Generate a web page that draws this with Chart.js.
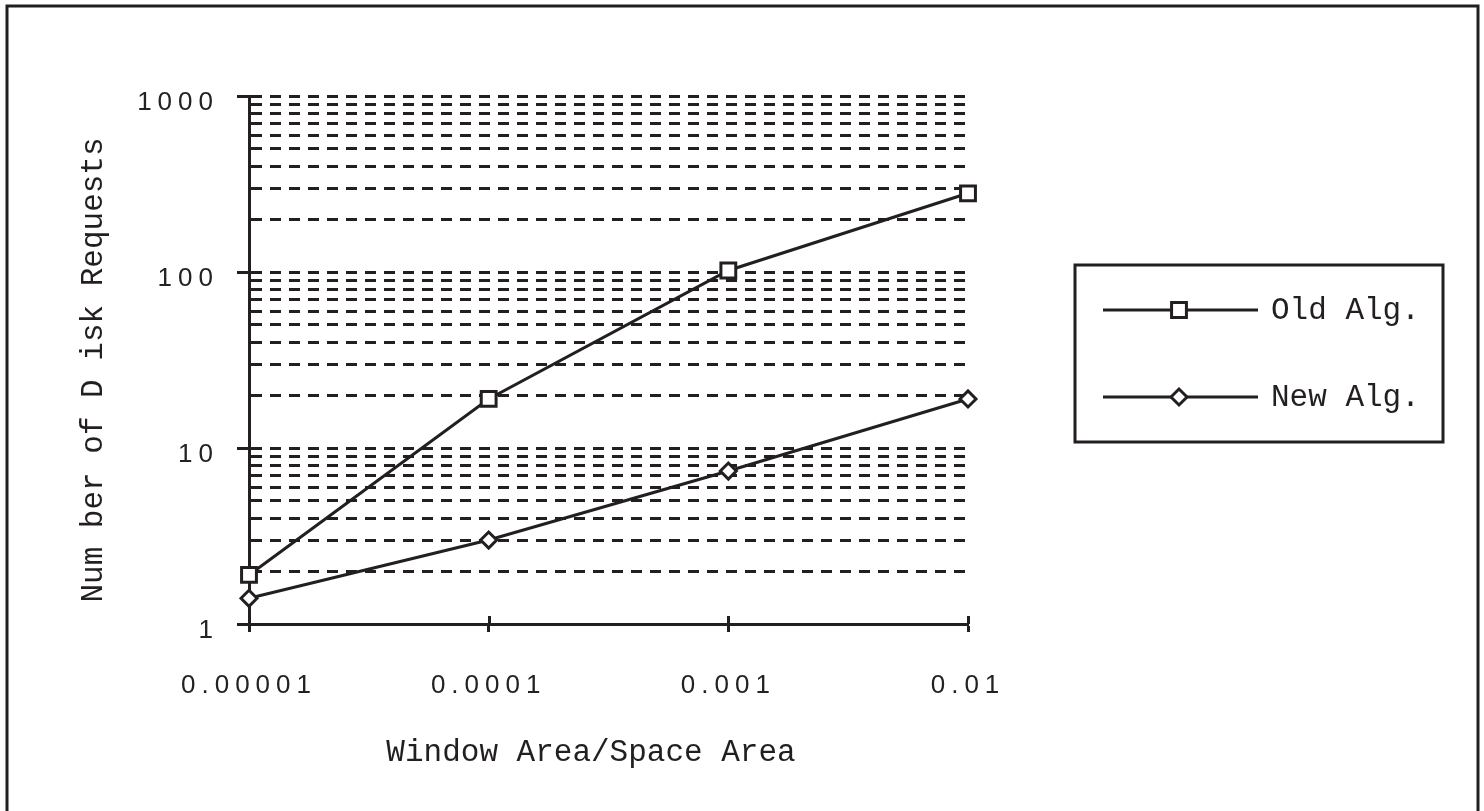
<!DOCTYPE html>
<html>
<head>
<meta charset="utf-8">
<script src="https://cdn.jsdelivr.net/npm/chart.js@4.4.1/dist/chart.umd.min.js"></script>
<style>
  html, body { margin: 0; padding: 0; background: #fff; }
  #wrap { width: 1484px; height: 811px; position: relative; }
</style>
</head>
<body>
<div id="wrap"><canvas id="chart"></canvas></div>
<script>
// datos
const xValues = [0.00001, 0.0001, 0.001, 0.01];
const xTickLabels = ['0.00001', '0.0001', '0.001', '0.01'];
const oldAlg = [1.9, 19, 102, 280];
const newAlg = [1.4, 3.0, 7.4, 19];
const seriesNames = ['Old Alg.', 'New Alg.'];
const yTickValues = [1, 2, 3, 4, 5, 6, 7, 8, 9,
                     10, 20, 30, 40, 50, 60, 70, 80, 90,
                     100, 200, 300, 400, 500, 600, 700, 800, 900, 1000];
const yTickLabels = { 1: '1', 10: '10', 100: '100', 1000: '1000' };
const xTitle = 'Window Area/Space Area';
const yTitle = 'Num ber of D isk Requests';

const ink = '#231f20';
const monoFont = '"Liberation Mono", "Courier New", monospace';

// marco, títulos y leyenda dibujados a mano
const extras = {
    id: 'extras',
    beforeDraw(chart) {
        chart.ctx.letterSpacing = '6px';
    },
    afterDraw(chart) {
        const ctx = chart.ctx;
        const xs = chart.scales.x, ys = chart.scales.y;
        ctx.save();
        ctx.letterSpacing = '0px';

        // ticks del eje x hacia dentro
        ctx.strokeStyle = ink;
        ctx.lineWidth = 3;
        xValues.forEach(v => {
            const px = Math.round(xs.getPixelForValue(v)) + 0.5;
            ctx.beginPath();
            ctx.moveTo(px, ys.bottom - 8);
            ctx.lineTo(px, ys.bottom);
            ctx.stroke();
        });

        // marco exterior
        ctx.strokeRect(7, 6, 1471, 820);

        // títulos
        ctx.fillStyle = ink;
        ctx.font = '31px ' + monoFont;
        ctx.textAlign = 'center';
        ctx.textBaseline = 'middle';
        ctx.fillText(xTitle, 591, 753);
        ctx.save();
        ctx.translate(94, 370);
        ctx.rotate(-Math.PI / 2);
        ctx.fillText(yTitle, 0, 0);
        ctx.restore();

        // leyenda
        ctx.strokeRect(1075, 265, 368, 177);
        const rows = [310, 397];
        chart.data.datasets.forEach((ds, i) => {
            const y = rows[i];
            ctx.beginPath();
            ctx.moveTo(1103, y);
            ctx.lineTo(1258, y);
            ctx.stroke();
            const r = ds.pointRadius;
            ctx.beginPath();
            if (ds.pointStyle === 'rect') {
                const s = r * Math.SQRT1_2;
                ctx.rect(1179 - s, y - s, 2 * s, 2 * s);
            } else {
                ctx.moveTo(1179 - r, y);
                ctx.lineTo(1179, y - r);
                ctx.lineTo(1179 + r, y);
                ctx.lineTo(1179, y + r);
                ctx.closePath();
            }
            ctx.fillStyle = '#fff';
            ctx.fill();
            ctx.stroke();
            ctx.fillStyle = ink;
            ctx.textAlign = 'left';
            ctx.fillText(ds.label, 1271, y + 1);
        });
        ctx.restore();
    }
};

const ctx = document.getElementById('chart').getContext('2d');

new Chart(ctx, {
    type: 'line',
    data: {
        datasets: [{
            label: seriesNames[0],
            data: xValues.map((x, i) => ({ x: x, y: oldAlg[i] })),
            borderColor: ink,
            borderWidth: 3,
            pointStyle: 'rect',
            pointRadius: 10.5,
            pointBorderWidth: 3,
            pointBackgroundColor: '#fff',
            pointBorderColor: ink,
            clip: false
        }, {
            label: seriesNames[1],
            data: xValues.map((x, i) => ({ x: x, y: newAlg[i] })),
            borderColor: ink,
            borderWidth: 3,
            pointStyle: 'rectRot',
            pointRadius: 8,
            pointBorderWidth: 3,
            pointBackgroundColor: '#fff',
            pointBorderColor: ink,
            clip: false
        }]
    },
    options: {
        responsive: true,
        maintainAspectRatio: false,
        devicePixelRatio: 1,
        animation: false,
        events: [],
        layout: { padding: { top: 96, right: 516, left: 0, bottom: 0 } },
        plugins: {
            legend: { display: false },
            tooltip: { enabled: false }
        },
        scales: {
            x: {
                type: 'logarithmic',
                min: 0.00001,
                max: 0.01,
                afterBuildTicks: (scale) => {
                    scale.ticks = xValues.map(v => ({ value: v }));
                },
                afterFit: (scale) => { scale.height = 187; },
                border: { color: ink, width: 3 },
                grid: {
                    drawOnChartArea: false,
                    tickLength: 8,
                    tickWidth: 3,
                    tickColor: ink
                },
                ticks: {
                    autoSkip: false,
                    maxRotation: 0,
                    padding: 38,
                    color: '#222',
                    font: { family: '"Liberation Sans", Arial, sans-serif', size: 26 },
                    callback: (value, index) => xTickLabels[index]
                }
            },
            y: {
                type: 'logarithmic',
                min: 1,
                max: 1000,
                afterBuildTicks: (scale) => {
                    scale.ticks = yTickValues.map(v => ({ value: v }));
                },
                afterFit: (scale) => { scale.width = 249; },
                border: { color: ink, width: 3, dash: [11, 8] },
                grid: {
                    color: (c) => (c.tick && c.tick.value === 1) ? 'rgba(0,0,0,0)' : ink,
                    lineWidth: 3,
                    tickLength: 12,
                    tickWidth: 3,
                    tickBorderDash: [20, 0],
                    tickColor: (c) => (c.tick && yTickLabels[c.tick.value]) ? ink : 'rgba(0,0,0,0)'
                },
                ticks: {
                    autoSkip: false,
                    padding: 18,
                    labelOffset: 7,
                    color: '#222',
                    font: { family: '"Liberation Sans", Arial, sans-serif', size: 26 },
                    callback: (value) => yTickLabels[value] || ''
                }
            }
        }
    },
    plugins: [extras]
});
</script>
</body>
</html>
